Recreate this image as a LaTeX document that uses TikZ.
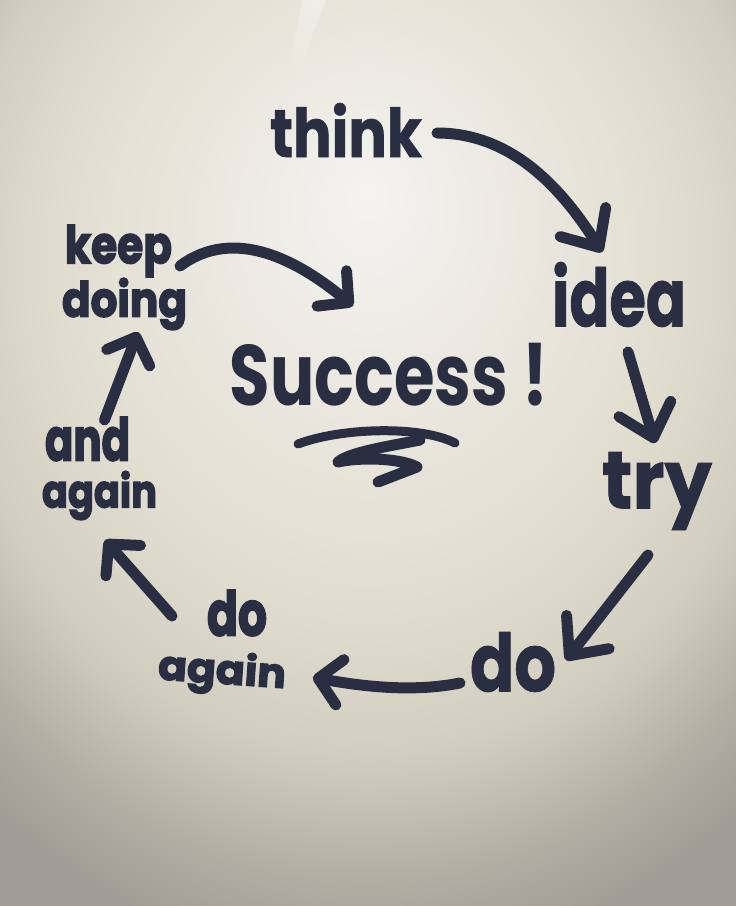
\documentclass[tikz,border=0pt]{standalone}
\usepackage{fontspec}
\setmainfont{Poppins}
\newfontfamily\medfont{Poppins}[UprightFont=* Bold, FakeBold=1]
\newfontfamily\heavyfont{Poppins}[UprightFont=* Bold, FakeBold=3]
\newfontfamily\succfont{Poppins}[UprightFont=* Bold]
\usetikzlibrary{arrows.meta, calc}

\definecolor{ink}{HTML}{2A2E42}
\definecolor{wall0}{HTML}{F4F3EF}
\definecolor{wall1}{HTML}{EBE9E1}
\definecolor{wall2}{HTML}{E1DED0}
\definecolor{wall3}{HTML}{D2CEBF}
\definecolor{wall4}{HTML}{B2AEA4}
\definecolor{wall5}{HTML}{A09C95}
\pgfdeclareradialshading{wall}{\pgfpoint{0bp}{9bp}}{color(0bp)=(wall0); color(6bp)=(wall1); color(13bp)=(wall2); color(18bp)=(wall3); color(22bp)=(wall4); color(25bp)=(wall5); color(50bp)=(wall5)}

\newcommand{\fitword}[3]{\resizebox*{#1pt}{#2pt}{#3}}

\begin{document}
\begin{tikzpicture}[x=1pt,y=-1pt,
  word/.style={inner sep=0pt, outer sep=0pt, text=ink, font=\fontsize{60}{60}\medfont},
  heavy/.style={word, font=\fontsize{60}{60}\heavyfont},
  arr/.style={draw=ink, line width=11pt, line cap=round, -{Straight Barb[length=30pt, width=54pt, round]}},
  small tip/.style={-{Straight Barb[length=22pt, width=46pt, round]}}]
  \useasboundingbox (0,0) rectangle (736,906);
  \fill[wall5] (0,0) rectangle (736,906); % wall
  \shade[shading=wall] (368,430) ellipse (580 and 660);
  \shade[top color=white, bottom color=wall1, opacity=.35] (302,0) -- (326,0) -- (299,70) -- (289,70) -- cycle; % lamp

  % words round the circle
  \node[word] (think) at (346,130) {\fitword{152}{54}{think}};
  \node[word] (idea) at (619,294.5) {\fitword{134}{65}{idea}};
  \node[word] (try) at (657,491) {\fitword{110}{78}{try}};
  \node[word] (do) at (513,662) {\fitword{86}{60}{do}};
  \node[heavy] (do2) at (237,613) {\fitword{60}{46}{do}};
  \node[heavy, rotate=-4] (again2) at (222,673) {\fitword{128}{44}{again}};
  \node[heavy] (and) at (87.5,439) {\fitword{85}{44}{and}};
  \node[heavy] (again) at (99.5,495.5) {\fitword{115}{49}{again}};
  \node[heavy] (keep) at (118.5,251) {\fitword{107}{52}{keep}};
  \node[heavy] (doing) at (124.5,304) {\fitword{125}{52}{doing}};
  \node[word, font=\fontsize{60}{60}\succfont] (Success) at (389,374.5) {\fitword{318}{63}{Success !}};

  % arrows
  \draw[arr] ($(think.east)+(15,3)$) .. controls +(80,0) and +(-35,-55) .. ($(idea.north)+(-17,-10)$);
  \draw[arr] ($(idea.south)+(9,25)$) -- ($(try.north)+(-2,-9)$);
  \draw[arr] ($(try.south)+(-9,25)$) -- ($(do.east)+(10,-2)$);
  \draw[arr, small tip] ($(do.west)+(-10,21)$) .. controls +(-50,10) and +(45,8) .. ($(again2.east)+(27,0)$);
  \draw[arr, small tip] ($(do2.west)+(-35,3)$) -- ($(again.south)+(5.5,20)$);
  \draw[arr, small tip] ($(and.north)+(17,3)$) -- ($(doing.south)+(13.5,2)$);
  \draw[arr, small tip] ($(keep.east)+(8,15)$) .. controls +(55,-41) and +(-53,-44) .. ($(Success.north)+(-36,-37)$);

  % squiggle under Success
  \draw[ink, line width=9pt, line cap=round] (298,444) .. controls (340,428) and (420,425) .. (455,443);
  \draw[ink, line width=11pt, line cap=round, line join=round] (420,440) .. controls (390,446) and (350,452) .. (338,462) .. controls (360,457) and (400,458) .. (417,467) -- (378,482);
\end{tikzpicture}
\end{document}
